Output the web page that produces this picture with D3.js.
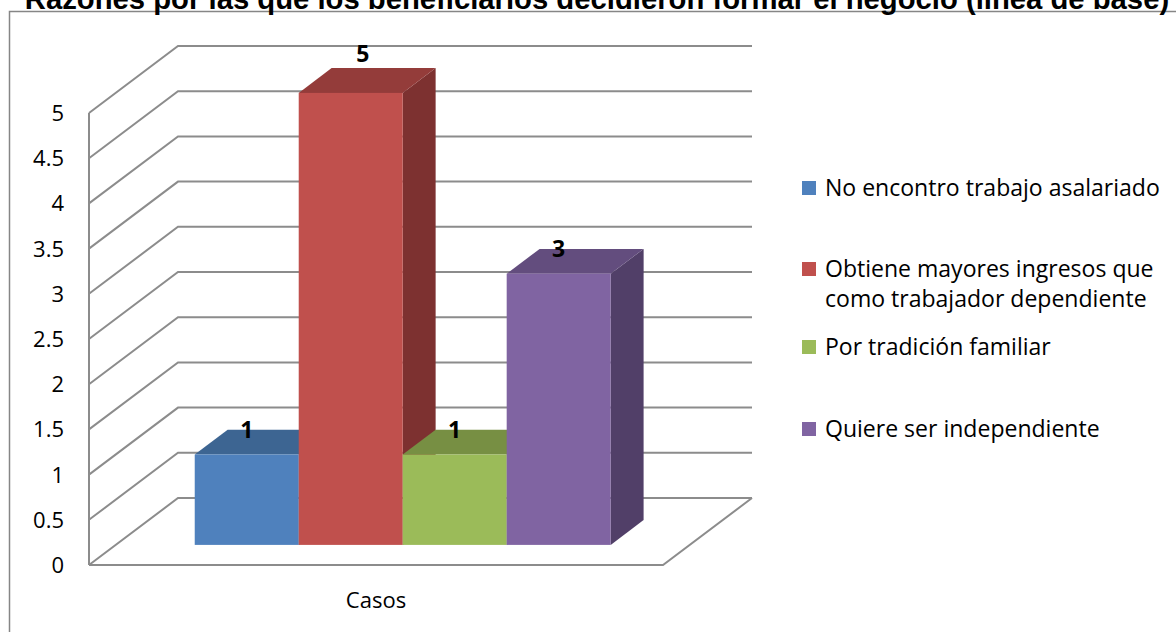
<!DOCTYPE html>
<html>
<head>
<meta charset="utf-8">
<script src="https://cdn.jsdelivr.net/npm/d3@7"></script>
<style>
  body { margin: 0; background: #fff; }
  svg { display: block; }
</style>
</head>
<body>
<svg id="chart"></svg>
<script>
// Chart data
const title = "Razones por las que los beneficiarios decidieron formar el negocio (línea de base)";
const category = "Casos";
const series = [
    "No encontro trabajo asalariado",
    "Obtiene mayores ingresos que como trabajador dependiente",
    "Por tradición familiar",
    "Quiere ser independiente"
];
const legendLines = [
    ["No encontro trabajo asalariado"],
    ["Obtiene mayores ingresos que", "como trabajador dependiente"],
    ["Por tradición familiar"],
    ["Quiere ser independiente"]
];
const values = [1, 5, 1, 3];
const yTicks = [0, 0.5, 1, 1.5, 2, 2.5, 3, 3.5, 4, 4.5, 5];

// Office-style colours: front, top, side
const palette = [
    { front: "#4F81BD", top: "#3D6592", side: "#385D8A" },
    { front: "#C0504D", top: "#943C3A", side: "#7D3130" },
    { front: "#9BBB59", top: "#778F43", side: "#657A3A" },
    { front: "#8064A2", top: "#634D7E", side: "#513F68" }
];

const width = 1176, height = 632;
const svg = d3.select("#chart").attr("width", width).attr("height", height);

const sans = "'Open Sans', 'Noto Sans', sans-serif";
const gridColor = "#8C8C8C";

// 3D geometry: front-left corner of the floor and the depth vector
const origin = { x: 89, y: 565 };
const depth = { x: 89, y: -67 };
const floorW = 574;

const y = d3.scaleLinear().domain([0, 5]).range([0, 452]);
const x = d3.scaleBand().domain(series).range([0, floorW])
            .paddingInner(0).paddingOuter(0.76);

// project (along floor, value, depth 0..1) to screen
const proj = (u, v, t) => [origin.x + u + t * depth.x, origin.y - y(v) + t * depth.y];
const line = d3.line();

// fit a text element's font size to a target width
function fitWidth(sel, base, target) {
    const w = sel.node().getComputedTextLength();
    return base * target / w;
}

// Frame
svg.append("rect")
   .attr("x", 9.5).attr("y", 11.5)
   .attr("width", 1200).attr("height", 700)
   .attr("fill", "none")
   .attr("stroke", "#868686")
   .attr("stroke-width", 1.5);

// Title (clipped at the top like the source)
const titleText = svg.append("text")
   .attr("x", 597).attr("y", 9)
   .attr("text-anchor", "middle")
   .style("font-family", "'Liberation Sans', Arial, sans-serif")
   .style("font-weight", "bold")
   .style("font-size", "24px")
   .text(title);
titleText.style("font-size", fitWidth(titleText, 24, 1145) + "px");

// Walls and gridlines
const grid = svg.append("g")
   .attr("fill", "none")
   .attr("stroke", gridColor)
   .attr("stroke-width", 2);

yTicks.forEach(v => {
    grid.append("path").attr("d", line([proj(0, v, 0), proj(0, v, 1), proj(floorW, v, 1)]));
});
// floor outline
grid.append("path").attr("d", line([proj(0, 0, 0), proj(floorW, 0, 0), proj(floorW, 0, 1)]));
// front vertical axis
grid.append("path").attr("d", line([proj(0, 0, 0), proj(0, 5, 0)]));

// Tick labels
svg.append("g").selectAll("text")
   .data(yTicks)
   .join("text")
   .attr("x", 64)
   .attr("y", d => proj(0, d, 0)[1])
   .attr("dy", "0.36em")
   .attr("text-anchor", "end")
   .style("font-family", sans)
   .style("font-size", "22px")
   .style("fill", "#000")
   .text(d => d3.format("")(d));

// Bars
const t0 = 0.30, t1 = 0.67;
const bw = x.bandwidth();
const bars = svg.append("g");
series.forEach((s, i) => {
    const u0 = x(s), u1 = u0 + bw, v = values[i], c = palette[i];
    bars.append("path")
        .attr("d", line([proj(u1, 0, t0), proj(u1, v, t0), proj(u1, v, t1), proj(u1, 0, t1)]) + "Z")
        .attr("fill", c.side);
    bars.append("path")
        .attr("d", line([proj(u0, v, t0), proj(u1, v, t0), proj(u1, v, t1), proj(u0, v, t1)]) + "Z")
        .attr("fill", c.top);
    const [fx, fy] = proj(u0, v, t0);
    bars.append("rect")
        .attr("x", fx).attr("y", fy)
        .attr("width", bw)
        .attr("height", y(v))
        .attr("fill", c.front);
});

// Data labels
const vmax = d3.max(values);
svg.append("g").selectAll("text")
   .data(series)
   .join("text")
   .attr("x", (s, i) => proj(x(s) + bw / 2, values[i], t0)[0] + (values[i] === vmax ? 12 : 0))
   .attr("y", (s, i) => proj(x(s) + bw / 2, values[i], t1)[1] - (values[i] === vmax ? 14 : 0))
   .attr("dy", "0.36em")
   .attr("text-anchor", "middle")
   .style("font-family", sans)
   .style("font-weight", "bold")
   .style("font-size", "23px")
   .text((s, i) => values[i]);

// Category label
svg.append("text")
   .attr("x", proj(floorW / 2, 0, 0)[0])
   .attr("y", 608)
   .attr("text-anchor", "middle")
   .style("font-family", sans)
   .style("font-size", "22px")
   .text(category);

// Legend
const legendY = [188, 269, 347, 429];
const legend = svg.append("g").attr("transform", "translate(802,0)");
const probe = legend.append("text")
    .style("font-family", sans).style("font-size", "21px")
    .text(legendLines[0][0]);
const legendSize = fitWidth(probe, 21, 335);
probe.remove();

legendLines.forEach((lines, i) => {
    legend.append("rect")
          .attr("x", 0).attr("y", legendY[i] - 7)
          .attr("width", 14).attr("height", 14)
          .attr("fill", palette[i].front);
    lines.forEach((l, j) => {
        legend.append("text")
              .attr("x", 23)
              .attr("y", legendY[i] + j * 30)
              .attr("dy", "0.36em")
              .style("font-family", sans)
              .style("font-size", legendSize + "px")
              .text(l);
    });
});
</script>
</body>
</html>
